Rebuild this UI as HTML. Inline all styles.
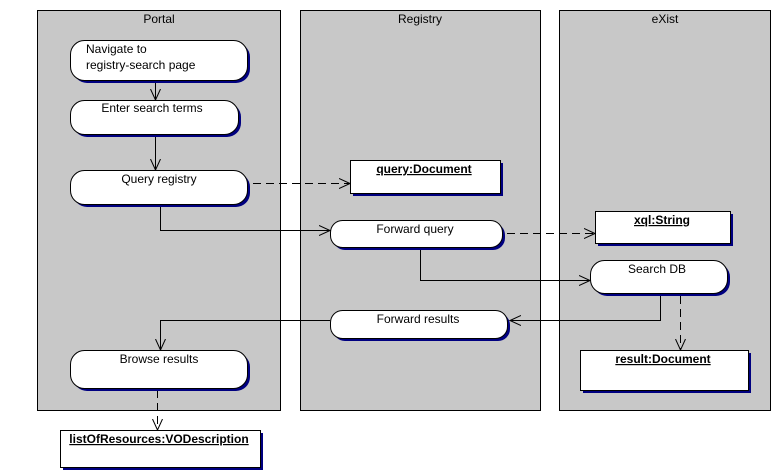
<!DOCTYPE html>
<html><head><meta charset="utf-8"><style>
html,body{margin:0;padding:0;background:#fff;}
svg{display:block;font-family:"Liberation Sans",Arial,sans-serif;font-size:12px;}
</style></head><body>
<svg width="781" height="471" viewBox="0 0 781 471" xmlns="http://www.w3.org/2000/svg">
<defs>
<marker id="a" viewBox="0 0 12 12" refX="11" refY="6" markerWidth="12" markerHeight="12" markerUnits="userSpaceOnUse" orient="auto">
<path d="M0,1 L11,6 L0,11" fill="none" stroke="#000" stroke-width="1"/>
</marker>
</defs>
<!-- lanes -->
<rect x="37.5" y="10.5" width="243" height="400" fill="#c8c8c8" stroke="#000"/>
<rect x="300.5" y="10.5" width="240" height="400" fill="#c8c8c8" stroke="#000"/>
<rect x="559.5" y="10.5" width="211" height="400" fill="#c8c8c8" stroke="#000"/>
<text x="159" y="23" text-anchor="middle">Portal</text>
<text x="420" y="23" text-anchor="middle">Registry</text>
<text x="665" y="23" text-anchor="middle">eXist</text>

<g stroke="#000" fill="none">
<!-- flows -->
<line x1="155.5" y1="81" x2="155.5" y2="100" marker-end="url(#a)"/>
<line x1="155.5" y1="135" x2="155.5" y2="170" marker-end="url(#a)"/>
<polyline points="160.5,205 160.5,230.5 330,230.5" marker-end="url(#a)"/>
<polyline points="420.5,248 420.5,280.5 590,280.5" marker-end="url(#a)"/>
<polyline points="660.5,295 660.5,320.5 510,320.5" marker-end="url(#a)"/>
<polyline points="330,320.5 160.5,320.5 160.5,350" marker-end="url(#a)"/>
<g stroke-dasharray="8,5">
<line x1="253" y1="183.5" x2="350" y2="183.5" marker-end="url(#a)"/>
<line x1="507" y1="233.5" x2="595" y2="233.5" marker-end="url(#a)"/>
<line x1="680.5" y1="296" x2="680.5" y2="350" marker-end="url(#a)"/>
<line x1="157.5" y1="390" x2="157.5" y2="430" marker-end="url(#a)"/>
</g>
</g>

<!-- activities -->
<g stroke="#000">
<rect x="73" y="43" width="177" height="40" rx="14" fill="#000080" stroke="none"/>
<rect x="70.5" y="40.5" width="177" height="40" rx="14" fill="#fff"/>
<rect x="73" y="103" width="168" height="34" rx="14" fill="#000080" stroke="none"/>
<rect x="70.5" y="100.5" width="168" height="34" rx="14" fill="#fff"/>
<rect x="73" y="173" width="177" height="34" rx="14" fill="#000080" stroke="none"/>
<rect x="70.5" y="170.5" width="177" height="34" rx="14" fill="#fff"/>
<rect x="73" y="353" width="177" height="38" rx="14" fill="#000080" stroke="none"/>
<rect x="70.5" y="350.5" width="177" height="38" rx="14" fill="#fff"/>
<rect x="333" y="223" width="172" height="27" rx="12" fill="#000080" stroke="none"/>
<rect x="330.5" y="220.5" width="172" height="27" rx="12" fill="#fff"/>
<rect x="333" y="313" width="177" height="28" rx="12" fill="#000080" stroke="none"/>
<rect x="330.5" y="310.5" width="177" height="28" rx="12" fill="#fff"/>
<rect x="593" y="263" width="137" height="33" rx="14" fill="#000080" stroke="none"/>
<rect x="590.5" y="260.5" width="137" height="33" rx="14" fill="#fff"/>
<!-- objects -->
<rect x="353" y="163" width="150" height="33" fill="#000080" stroke="none"/>
<rect x="350.5" y="160.5" width="150" height="33" fill="#fff"/>
<rect x="598" y="214" width="135" height="32" fill="#000080" stroke="none"/>
<rect x="595.5" y="211.5" width="135" height="32" fill="#fff"/>
<rect x="583" y="353" width="168" height="40" fill="#000080" stroke="none"/>
<rect x="580.5" y="350.5" width="168" height="40" fill="#fff"/>
<rect x="63" y="433" width="200" height="37" fill="#000080" stroke="none"/>
<rect x="60.5" y="430.5" width="200" height="37" fill="#fff"/>
</g>

<g fill="#000">
<text x="86" y="53">Navigate to</text>
<text x="86" y="69">registry-search page</text>
<text x="152" y="112" text-anchor="middle">Enter search terms</text>
<text x="159" y="183" text-anchor="middle">Query registry</text>
<text x="159" y="363" text-anchor="middle">Browse results</text>
<text x="415" y="233" text-anchor="middle">Forward query</text>
<text x="418" y="323" text-anchor="middle">Forward results</text>
<text x="657" y="273" text-anchor="middle">Search DB</text>
<g font-weight="bold" text-decoration="underline" text-anchor="middle">
<text x="424" y="173">query:Document</text>
<text x="662" y="224">xql:String</text>
<text x="663" y="363">result:Document</text>
<text x="159" y="443">listOfResources:VODescription</text>
</g>
</g>
</svg>
</body></html>
